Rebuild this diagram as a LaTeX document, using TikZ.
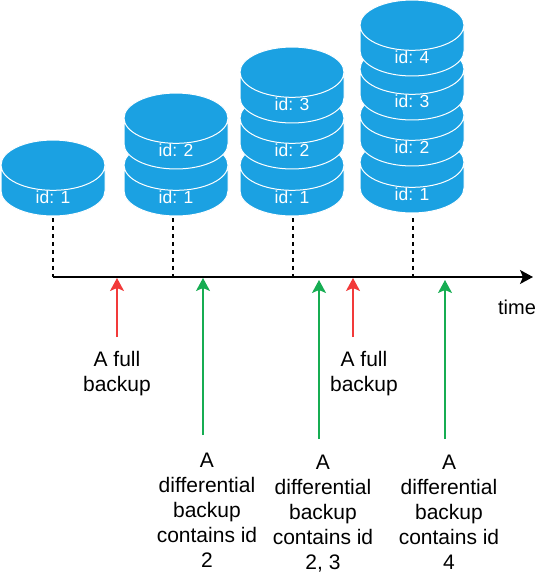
\documentclass[tikz,border=0pt]{standalone}
\usepackage{fontspec}
\setmainfont{Liberation Sans}
\usetikzlibrary{shapes.geometric,arrows.meta}
\definecolor{diskblue}{HTML}{1BA1E2}
\definecolor{fullred}{HTML}{F23A3A}
\definecolor{diffgreen}{HTML}{16AD52}
\newcommand{\diskid}[1]{\raisebox{-13pt}{id: #1}}
\begin{document}
\begin{tikzpicture}[x=1pt,y=-1pt]
       \tikzstyle{disk}=[cylinder, shape border rotate=90, aspect=1.45, anchor=shape center, minimum width=104pt, minimum height=74pt, text height=0pt, text depth=0pt, inner sep=0pt, outer sep=0pt, draw=white, line width=1pt, fill=diskblue, text=white, font=\fontsize{17.5}{20}\selectfont]
       \tikzstyle{note}=[align=center, inner sep=0pt, font=\fontsize{21}{25}\selectfont]
       \tikzstyle{guide}=[draw, line width=1.2pt, dash pattern=on 4pt off 4pt]
       \tikzstyle{fullarrow}=[draw=fullred, line width=1.2pt, -{Stealth[length=13pt,width=14pt,inset=3pt]}]
       \tikzstyle{diffarrow}=[draw=diffgreen, line width=1.2pt, -{Stealth[length=13pt,width=14pt,inset=3pt]}]
       \useasboundingbox (0,0) rectangle (537,573);
       % first stack
       \node[disk] (diskA1) at (53,178) {\diskid{1}};
       % second stack
       \node[disk] (diskB1) at (176,178) {\diskid{1}};
       \node[disk] (diskB2) at (176,131) {\diskid{2}};
       % third stack
       \node[disk] (diskC1) at (292,178) {\diskid{1}};
       \node[disk] (diskC2) at (292,131) {\diskid{2}};
       \node[disk] (diskC3) at (292,85) {\diskid{3}};
       % fourth stack
       \node[disk] (diskD1) at (412,175) {\diskid{1}};
       \node[disk] (diskD2) at (412,128) {\diskid{2}};
       \node[disk] (diskD3) at (412,82) {\diskid{3}};
       \node[disk] (diskD4) at (412,38) {\diskid{4}};
       % time axis
       \coordinate (axisstart) at (53,277);
       \coordinate (axisend) at (533,277);
       \coordinate (tickB) at (173,277);
       \coordinate (tickC) at (293,277);
       \coordinate (tickD) at (413,277);
       \draw[line width=1.2pt, -{Stealth[length=13pt,width=14pt,inset=3pt]}] (axisstart) -- (axisend);
       \node[note, font=\fontsize{20}{24}\selectfont] (timelabel) at (517,307) {time};
       \coordinate (guideA) at (53,218);
       \coordinate (guideB) at (173,218);
       \coordinate (guideC) at (293,218);
       \coordinate (guideD) at (413,218);
       \path[guide] (guideA) -- (axisstart);
       \path[guide] (guideB) -- (tickB);
       \path[guide] (guideC) -- (tickC);
       \path[guide] (guideD) -- (tickD);
       % notes
       \node[note, anchor=north] (fullone) at (117,351) {A full\\backup};
       \node[note, anchor=north] (fulltwo) at (364,351) {A full\\backup};
       \node[note, anchor=north] (diffone) at (207,453) {A\\differential\\backup\\contains id\\2};
       \node[note, anchor=north] (difftwo) at (323,455) {A\\differential\\backup\\contains id\\2, 3};
       \node[note, anchor=north] (diffthree) at (449,455) {A\\differential\\backup\\contains id\\4};
       \coordinate (fulloneend) at (117,337);
       \coordinate (fulloneup) at (117,278);
       \coordinate (fulltwoend) at (353,337);
       \coordinate (fulltwoup) at (353,278);
       \coordinate (diffoneend) at (203,435);
       \coordinate (diffoneup) at (203,278);
       \coordinate (difftwoend) at (319,439);
       \coordinate (difftwoup) at (319,280);
       \coordinate (diffthreeend) at (445,439);
       \coordinate (diffthreeup) at (445,280);
       \path[fullarrow] (fulloneend) -- (fulloneup);
       \path[fullarrow] (fulltwoend) -- (fulltwoup);
       \path[diffarrow] (diffoneend) -- (diffoneup);
       \path[diffarrow] (difftwoend) -- (difftwoup);
       \path[diffarrow] (diffthreeend) -- (diffthreeup);
      \end{tikzpicture}
\end{document}
